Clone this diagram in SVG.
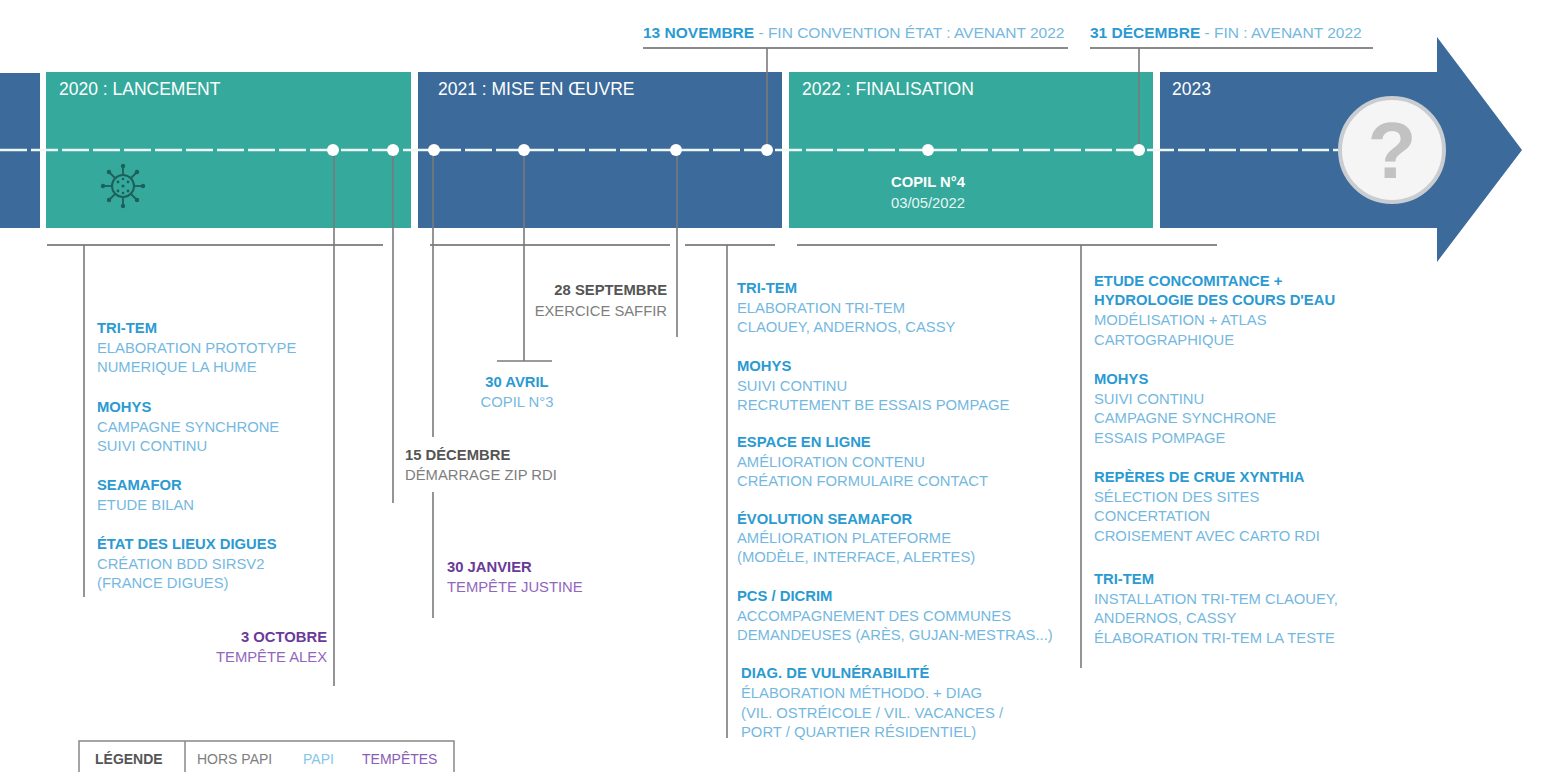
<svg xmlns="http://www.w3.org/2000/svg" width="1553" height="772" viewBox="0 0 1553 772">
<style>
text{font-family:"Liberation Sans",Arial,sans-serif;font-size:14.8px}
.b{font-weight:bold}
.pb{fill:#2a9ad2;font-weight:bold}
.pl{fill:#74b8df}
.gb{fill:#555;font-weight:bold}
.gl{fill:#7e7e7e}
.tb{fill:#6a3a98;font-weight:bold}
.tl{fill:#9266bd}
.top{font-size:15.5px}
.band{font-size:17.5px;fill:#fff}
.teal{fill:#35a99c}
.blue{fill:#3b6a9b}
.conn{stroke:#7a7a7a;stroke-width:1.6;fill:none}
.hl{stroke:#8a8a8a;stroke-width:2;fill:none}
.dot{fill:#fff}
</style>
<rect width="1553" height="772" fill="#fff"/>
<g id="bands">
<rect class="blue" x="0" y="73" width="40" height="155"/>
<rect class="teal" x="46" y="72" width="365" height="156"/>
<rect class="blue" x="418" y="72" width="364" height="156"/>
<rect class="teal" x="789" y="72" width="364" height="156"/>
<polygon class="blue" points="1160,72 1437,72 1437,37 1522,150 1437,262 1437,228 1160,228"/>
<text class="band" x="59" y="95">2020 : LANCEMENT</text>
<text class="band" x="438" y="95">2021 : MISE EN ŒUVRE</text>
<text class="band" x="802" y="95">2022 : FINALISATION</text>
<text class="band" x="1172" y="95">2023</text>
</g>
<g id="timeline">
<line x1="0" y1="150" x2="1345" y2="150" stroke="#eef8f6" stroke-width="2.6" stroke-dasharray="27 4"/>
</g>
<g id="connectors">
<line class="hl" x1="643" y1="48" x2="1068" y2="48"/>
<line class="hl" x1="1090" y1="48" x2="1373" y2="48"/>
<line class="conn" x1="767" y1="48" x2="767" y2="150"/>
<line class="conn" x1="1139" y1="48" x2="1139" y2="150"/>
<line class="hl" x1="47" y1="245" x2="383" y2="245"/>
<line class="hl" x1="430" y1="245" x2="670" y2="245"/>
<line class="hl" x1="685" y1="245" x2="775" y2="245"/>
<line class="hl" x1="797" y1="245" x2="1217" y2="245"/>
<line class="conn" x1="84" y1="245" x2="84" y2="597"/>
<line class="conn" x1="334" y1="150" x2="334" y2="686"/>
<line class="conn" x1="393" y1="150" x2="393" y2="503"/>
<line class="conn" x1="433" y1="150" x2="433" y2="437"/>
<line class="conn" x1="433" y1="492" x2="433" y2="618"/>
<line class="conn" x1="524" y1="150" x2="524" y2="361"/>
<line class="conn" x1="497" y1="361" x2="552" y2="361"/>
<line class="conn" x1="677" y1="150" x2="677" y2="337"/>
<line class="conn" x1="727" y1="245" x2="727" y2="738"/>
<line class="conn" x1="1081" y1="245" x2="1081" y2="668"/>
</g>
<g id="dots">
<circle class="dot" cx="333" cy="150" r="6"/>
<circle class="dot" cx="393" cy="150" r="6"/>
<circle class="dot" cx="434" cy="150" r="6"/>
<circle class="dot" cx="524" cy="150" r="6"/>
<circle class="dot" cx="676" cy="150" r="6"/>
<circle class="dot" cx="767" cy="150" r="6"/>
<circle class="dot" cx="928" cy="150" r="6"/>
<circle class="dot" cx="1139" cy="150" r="6"/>
</g>
<g id="virus" stroke="#1f5f5a" fill="none" stroke-width="2">
<circle cx="123" cy="186" r="11"/>
<g stroke-width="1.8">
<line x1="123" y1="175" x2="123" y2="167"/>
<line x1="123" y1="197" x2="123" y2="205"/>
<line x1="112" y1="186" x2="104" y2="186"/>
<line x1="134" y1="186" x2="142" y2="186"/>
<line x1="115" y1="178" x2="110" y2="173"/>
<line x1="131" y1="178" x2="136" y2="173"/>
<line x1="115" y1="194" x2="110" y2="199"/>
<line x1="131" y1="194" x2="136" y2="199"/>
</g>
<g fill="#1f5f5a" stroke="none">
<circle cx="123" cy="166" r="2.2"/><circle cx="123" cy="206" r="2.2"/>
<circle cx="103" cy="186" r="2.2"/><circle cx="143" cy="186" r="2.2"/>
<circle cx="109" cy="172" r="2.2"/><circle cx="137" cy="172" r="2.2"/>
<circle cx="109" cy="200" r="2.2"/><circle cx="137" cy="200" r="2.2"/>
<circle cx="123" cy="186" r="1.6"/><circle cx="118" cy="182" r="1.4"/><circle cx="128" cy="182" r="1.4"/>
<circle cx="118" cy="191" r="1.4"/><circle cx="128" cy="191" r="1.4"/><circle cx="123" cy="179" r="1.3"/><circle cx="123" cy="193" r="1.3"/>
</g>
</g>
<g id="question">
<circle cx="1392" cy="150" r="52" fill="#f5f5f5" stroke="#c9ccd0" stroke-width="4"/>
<text x="1392" y="178" text-anchor="middle" style="font-size:80px;font-weight:bold;fill:#c2c2c2">?</text>
</g>
<g id="nov13">
<text x="643" y="38" class="top"><tspan class="pb">13 NOVEMBRE</tspan><tspan class="pl"> - FIN CONVENTION ÉTAT : AVENANT 2022</tspan></text>
</g>
<g id="dec31">
<text x="1090" y="38" class="top"><tspan class="pb">31 DÉCEMBRE</tspan><tspan class="pl"> - FIN : AVENANT 2022</tspan></text>
</g>
<g id="copil4">
<text x="928" y="187" text-anchor="middle" class="b" fill="#fff">COPIL N°4</text>
<text x="928" y="208" text-anchor="middle" fill="#e6f5f2">03/05/2022</text>
</g>
<g id="y2020">
<text x="97" y="333" class="pb">TRI-TEM</text>
<text x="97" y="353" class="pl">ELABORATION PROTOTYPE</text>
<text x="97" y="372" class="pl">NUMERIQUE LA HUME</text>
<text x="97" y="412" class="pb">MOHYS</text>
<text x="97" y="432" class="pl">CAMPAGNE SYNCHRONE</text>
<text x="97" y="451" class="pl">SUIVI CONTINU</text>
<text x="97" y="490" class="pb">SEAMAFOR</text>
<text x="97" y="510" class="pl">ETUDE BILAN</text>
<text x="97" y="549" class="pb">ÉTAT DES LIEUX DIGUES</text>
<text x="97" y="569" class="pl">CRÉATION BDD SIRSV2</text>
<text x="97" y="588" class="pl">(FRANCE DIGUES)</text>
</g>
<g id="oct3" text-anchor="end">
<text x="327" y="642" class="tb">3 OCTOBRE</text>
<text x="327" y="662" class="tl">TEMPÊTE ALEX</text>
</g>
<g id="dec15">
<text x="405" y="460" class="gb">15 DÉCEMBRE</text>
<text x="405" y="480" class="gl">DÉMARRAGE ZIP RDI</text>
</g>
<g id="jan30">
<text x="447" y="572" class="tb">30 JANVIER</text>
<text x="447" y="592" class="tl">TEMPÊTE JUSTINE</text>
</g>
<g id="apr30" text-anchor="middle">
<text x="517" y="387" class="pb">30 AVRIL</text>
<text x="517" y="407" class="pl">COPIL N°3</text>
</g>
<g id="sep28" text-anchor="end">
<text x="667" y="295" class="gb">28 SEPTEMBRE</text>
<text x="667" y="316" class="gl">EXERCICE SAFFIR</text>
</g>
<g id="y2021">
<text x="737" y="293" class="pb">TRI-TEM</text>
<text x="737" y="313" class="pl">ELABORATION TRI-TEM</text>
<text x="737" y="332" class="pl">CLAOUEY, ANDERNOS, CASSY</text>
<text x="737" y="371" class="pb">MOHYS</text>
<text x="737" y="391" class="pl">SUIVI CONTINU</text>
<text x="737" y="410" class="pl">RECRUTEMENT BE ESSAIS POMPAGE</text>
<text x="737" y="447" class="pb">ESPACE EN LIGNE</text>
<text x="737" y="467" class="pl">AMÉLIORATION CONTENU</text>
<text x="737" y="486" class="pl">CRÉATION FORMULAIRE CONTACT</text>
<text x="737" y="524" class="pb">ÉVOLUTION SEAMAFOR</text>
<text x="737" y="543" class="pl">AMÉLIORATION PLATEFORME</text>
<text x="737" y="562" class="pl">(MODÈLE, INTERFACE, ALERTES)</text>
<text x="737" y="601" class="pb">PCS / DICRIM</text>
<text x="737" y="621" class="pl">ACCOMPAGNEMENT DES COMMUNES</text>
<text x="737" y="640" class="pl">DEMANDEUSES (ARÈS, GUJAN-MESTRAS...)</text>
<text x="741" y="678" class="pb">DIAG. DE VULNÉRABILITÉ</text>
<text x="741" y="698" class="pl">ÉLABORATION MÉTHODO. + DIAG</text>
<text x="741" y="718" class="pl">(VIL. OSTRÉICOLE / VIL. VACANCES /</text>
<text x="741" y="737" class="pl">PORT / QUARTIER RÉSIDENTIEL)</text>
</g>
<g id="y2022">
<text x="1094" y="286" class="pb">ETUDE CONCOMITANCE +</text>
<text x="1094" y="305" class="pb">HYDROLOGIE DES COURS D'EAU</text>
<text x="1094" y="325" class="pl">MODÉLISATION + ATLAS</text>
<text x="1094" y="345" class="pl">CARTOGRAPHIQUE</text>
<text x="1094" y="384" class="pb">MOHYS</text>
<text x="1094" y="404" class="pl">SUIVI CONTINU</text>
<text x="1094" y="423" class="pl">CAMPAGNE SYNCHRONE</text>
<text x="1094" y="443" class="pl">ESSAIS POMPAGE</text>
<text x="1094" y="482" class="pb">REPÈRES DE CRUE XYNTHIA</text>
<text x="1094" y="502" class="pl">SÉLECTION DES SITES</text>
<text x="1094" y="521" class="pl">CONCERTATION</text>
<text x="1094" y="541" class="pl">CROISEMENT AVEC CARTO RDI</text>
<text x="1094" y="584" class="pb">TRI-TEM</text>
<text x="1094" y="604" class="pl">INSTALLATION TRI-TEM CLAOUEY,</text>
<text x="1094" y="623" class="pl">ANDERNOS, CASSY</text>
<text x="1094" y="643" class="pl">ÉLABORATION TRI-TEM LA TESTE</text>
</g>
<g id="legend">
<rect x="79" y="741" width="375" height="40" fill="none" stroke="#888" stroke-width="1.5"/>
<line x1="185" y1="741" x2="185" y2="772" stroke="#888" stroke-width="1.5"/>
<text x="95" y="764" class="gb" style="font-size:14px">LÉGENDE</text>
<text x="197" y="764" class="gl" style="font-size:14px">HORS PAPI</text>
<text x="303" y="764" style="font-size:14px;fill:#86c6ea">PAPI</text>
<text x="362" y="764" style="font-size:14px;fill:#8a5cb6">TEMPÊTES</text>
</g>
</svg>
